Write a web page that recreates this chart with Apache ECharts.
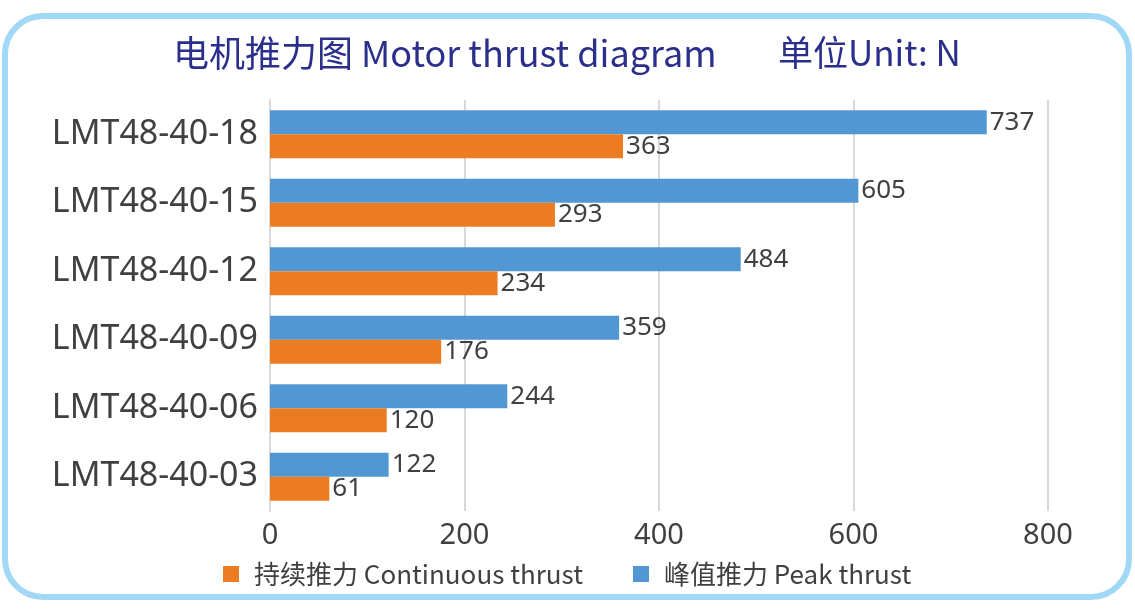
<!DOCTYPE html>
<html>
<head>
<meta charset="utf-8">
<script src="https://cdn.jsdelivr.net/npm/echarts@6/dist/echarts.min.js"></script>
<style>
  html, body { margin: 0; padding: 0; background: #fff; }
  #main { width: 1135px; height: 611px; }
</style>
</head>
<body>
<div id="main"></div>
<script>
// bottom to top
const models = ["LMT48-40-03", "LMT48-40-06", "LMT48-40-09", "LMT48-40-12", "LMT48-40-15", "LMT48-40-18"];
const continuousThrust = [61, 120, 176, 234, 293, 363];
const peakThrust = [122, 244, 359, 484, 605, 737];
const xTicks = [0, 200, 400, 600, 800];

const cjk = '"Noto Sans CJK SC", "Noto Sans", sans-serif';

const myChart = echarts.init(document.getElementById("main"));

const labelStyle = {
  show: true,
  position: "right",
  distance: 3,
  fontFamily: "Noto Sans",
  fontSize: 26,
  color: "#404040",
};

const option = {
  backgroundColor: "#fff",
  graphic: [
    {
      type: "rect",
      z: -10,
      shape: { x: 5, y: 16, width: 1124, height: 581, r: 38 },
      style: { fill: "#fff", stroke: "#a0d8f5", lineWidth: 6 },
    },
  ],
  title: [
    {
      text: "电机推力图 Motor thrust diagram",
      left: 168,
      top: 30,
      textStyle: { fontFamily: cjk, fontSize: 36, fontWeight: "normal", color: "#2b2f8c" },
    },
    {
      text: "单位Unit: N",
      left: 773,
      top: 30,
      textStyle: { fontFamily: cjk, fontSize: 35, fontWeight: "normal", color: "#2b2f8c" },
    },
  ],
  legend: {
    data: ["持续推力 Continuous thrust", "峰值推力 Peak thrust"],
    left: 218,
    top: 556,
    itemWidth: 16,
    itemHeight: 16,
    itemGap: 50,
    icon: "rect",
    textStyle: { fontFamily: cjk, fontSize: 26, color: "#404040", padding: [0, 0, 0, 10] },
  },
  grid: { left: 270, right: 87, top: 100, bottom: 100 },
  xAxis: {
    type: "value",
    min: xTicks[0],
    max: xTicks[xTicks.length - 1],
    interval: 200,
    axisLine: { show: false },
    axisTick: { show: false },
    axisLabel: { fontFamily: "Noto Sans", fontSize: 29, color: "#404040", margin: 10 },
    splitLine: { lineStyle: { color: "#d9d9d9", width: 2 } },
  },
  yAxis: {
    type: "category",
    data: models,
    axisLine: { lineStyle: { color: "#d9d9d9", width: 2 } },
    axisTick: { show: false },
    axisLabel: { fontFamily: "Noto Sans", fontSize: 34, color: "#404040", margin: 12 },
  },
  series: [
    {
      name: "峰值推力 Peak thrust",
      type: "bar",
      data: peakThrust,
      barWidth: 24,
      barGap: "0%",
      itemStyle: { color: "#5097d3" },
      label: labelStyle,
    },
    {
      name: "持续推力 Continuous thrust",
      type: "bar",
      data: continuousThrust,
      barWidth: 24,
      barGap: "0%",
      itemStyle: { color: "#ec7c22" },
      label: labelStyle,
    },
  ],
};

myChart.setOption(option);
</script>
</body>
</html>
